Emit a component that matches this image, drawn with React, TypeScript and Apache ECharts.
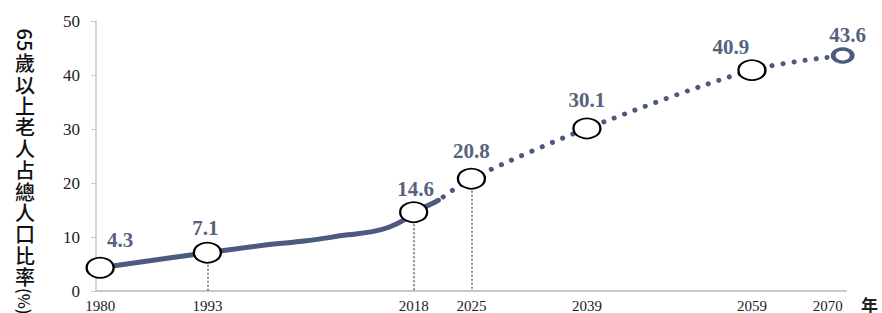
import React, { useEffect, useRef } from "react";
import * as echarts from "echarts";

// Observed (solid) share of population aged 65+ (%)
const observedYears = [1980, 1993, 2000, 2005, 2010, 2013, 2015, 2017, 2018, 2020, 2021];
const observedValues = [4.3, 7.1, 8.5, 9.3, 10.4, 11.0, 11.8, 13.3, 14.6, 16.0, 16.8];

// Projected (dotted)
const projectedYears = [2021, 2025, 2039, 2059, 2070];
const projectedValues = [16.8, 20.8, 30.1, 40.9, 43.6];

// Highlighted points
const keyYears = [1980, 1993, 2018, 2025, 2039, 2059, 2070];
const keyValues = [4.3, 7.1, 14.6, 20.8, 30.1, 40.9, 43.6];

// Years with vertical guide lines
const guideYears = [1993, 2018, 2025];
const guideValues = [7.1, 14.6, 20.8];

const xTickLabels = [1980, 1993, 2018, 2025, 2039, 2059, 2070];
const yTicks = [0, 10, 20, 30, 40, 50];

const yTitleHead = "65";
const yTitleChars = ["歲", "以", "上", "老", "人", "占", "總", "人", "口", "比", "率"];
const yTitleTail = "(%)";
const xName = "年";

const LINE = "#4b5a7e";
const LABEL = "#56627f";

const labelOffsets: Record<number, [number, number]> = {
  1980: [20, -2],
  1993: [-2, 1],
  2018: [2, 2],
  2025: [0, -2],
  2039: [0, -3],
  2059: [-21, 2],
  2070: [5, 2],
};

export default function App() {
  const ref = useRef<HTMLDivElement>(null);
  useEffect(() => {
    if (!ref.current) return;
    document.body.style.margin = "0";
    const chart = echarts.init(ref.current, undefined, { renderer: "svg" });
    const titleFont = '"Noto Sans CJK TC", "Noto Sans", sans-serif';
    const graphics: any[] = [
      {
        type: "text",
        x: 25,
        y: 40,
        rotation: -Math.PI / 2,
        style: { text: yTitleHead, font: `500 20px ${titleFont}`, fill: "#111", align: "center", verticalAlign: "middle" },
      },
      {
        type: "text",
        x: 25,
        y: 52,
        style: {
          text: yTitleChars.join("\n"),
          font: `500 20px ${titleFont}`,
          lineHeight: 21.4,
          fill: "#111",
          align: "center",
          verticalAlign: "top",
        },
      },
      {
        type: "text",
        x: 25,
        y: 288,
        rotation: -Math.PI / 2,
        style: { text: yTitleTail, font: `500 16px ${titleFont}`, fill: "#111", align: "left", verticalAlign: "middle" },
      },
    ];

    chart.setOption({
      animation: false,
      backgroundColor: "#ffffff",
      grid: { left: 96, right: 36, top: 21, bottom: 22, containLabel: false },
      graphic: graphics,
      xAxis: {
        type: "value",
        min: 1979.5,
        max: 2070.4,
        name: xName,
        nameLocation: "end",
        nameGap: 15,
        nameTextStyle: {
          fontFamily: titleFont,
          fontSize: 17,
          fontWeight: "bold",
          color: "#222",
          verticalAlign: "top",
          padding: [5, 0, 0, 0],
        },
        splitLine: { show: false },
        axisLine: { show: true, lineStyle: { color: "#c8c8c8", width: 2 } },
        axisTick: { show: false },
        axisLabel: {
          customValues: xTickLabels,
          alignMaxLabel: "right",
          margin: 7,
          fontFamily: '"Liberation Serif", "Times New Roman", serif',
          fontSize: 15,
          color: "#222",
          formatter: (v: number) => String(Math.round(v)),
        },
      },
      yAxis: {
        type: "value",
        min: 0,
        max: 50,
        interval: 10,
        splitLine: { show: false },
        axisLine: { show: true, lineStyle: { color: "#c8c8c8", width: 1.5 } },
        axisTick: { show: true, length: 5, lineStyle: { color: "#c8c8c8" }, customValues: yTicks },
        axisLabel: {
          margin: 16,
          fontFamily: '"Liberation Serif", "Times New Roman", serif',
          fontSize: 17,
          color: "#222",
        },
      },
      series: [
        {
          type: "line",
          data: observedYears.map((y, i) => [y, observedValues[i]]),
          smooth: 0.4,
          showSymbol: false,
          symbol: "none",
          lineStyle: { color: LINE, width: 5, cap: "round" },
          z: 2,
          markLine: {
            silent: true,
            symbol: "none",
            label: { show: false },
            lineStyle: { color: "#666", width: 1.5, type: [2, 2] },
            data: guideYears.map((y, i) => [{ coord: [y, guideValues[i]] }, { coord: [y, 0] }]),
          },
        },
        {
          type: "line",
          data: projectedYears.map((y, i) => [y, projectedValues[i]]),
          smooth: 0.3,
          showSymbol: false,
          symbol: "none",
          lineStyle: { color: LINE, width: 5, type: [0.1, 11], cap: "round", dashOffset: -6 },
          z: 2,
        },
        {
          type: "scatter",
          z: 5,
          data: keyYears.map((y, i) => {
            const last = y === 2070;
            return {
              value: [y, keyValues[i]],
              symbol: "circle",
              symbolSize: last ? [19, 13] : [27, 20],
              itemStyle: last
                ? { color: "#ffffff", borderColor: LINE, borderWidth: 4, opacity: 1 }
                : { color: "#ffffff", borderColor: "#000000", borderWidth: 2, opacity: 1 },
              label: {
                show: true,
                position: "top",
                distance: 4,
                offset: labelOffsets[y] || [0, 0],
                formatter: String(keyValues[i]),
                fontFamily: '"Liberation Serif", "Times New Roman", serif',
                fontWeight: "bold",
                fontSize: 21,
                color: LABEL,
              },
            };
          }),
        },
      ],
    });
    return () => chart.dispose();
  }, []);
  return <div ref={ref} style={{ width: 882, height: 313 }} />;
}
